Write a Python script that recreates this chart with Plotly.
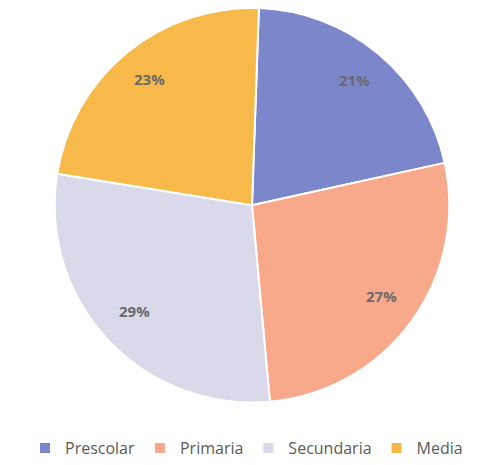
import numpy as np
import plotly.graph_objects as go

labels = ["Prescolar", "Primaria", "Secundaria", "Media"]
values = [21, 27, 29, 23]
colors = ["#7c87cb", "#f8a98b", "#d9d9e9", "#f6b94a"]

W, H = 493, 465
cx_px, cy_px, r_px = 252, 207, 199
rotation = 2

fig = go.Figure(go.Pie(
    labels=labels, values=values, sort=False, direction="clockwise", rotation=rotation,
    marker=dict(colors=colors, line=dict(color="white", width=2)),
    textinfo="none",
    domain=dict(x=[(cx_px - r_px) / W, (cx_px + r_px) / W],
                y=[1 - (cy_px + r_px) / H, 1 - (cy_px - r_px) / H]),
    hoverinfo="label+percent",
))

vals = np.array(values, dtype=float)
frac = vals / vals.sum()
mid = np.cumsum(frac) - frac / 2
d = 0.82 * 196
for f, m in zip(frac, mid):
    th = np.deg2rad(m * 360 + rotation)
    fig.add_annotation(
        x=(cx_px + d * np.sin(th)) / W, y=1 - (cy_px - 3 - d * np.cos(th)) / H,
        xref="paper", yref="paper", xanchor="center", yanchor="middle", showarrow=False,
        text=f"{round(f * 100)}%",
        font=dict(family="Open Sans", size=15, color="#6a6a6a", weight="bold"),
    )

fig.update_layout(
    width=W, height=H, margin=dict(l=0, r=0, t=0, b=0),
    paper_bgcolor="white", plot_bgcolor="white",
    legend=dict(orientation="h", x=0.5, xanchor="center", y=1 - 452 / H, yanchor="middle",
                font=dict(family="Open Sans", size=16, color="#5a5a5a"),
                itemwidth=30, traceorder="normal"),
)
fig.write_html("out.html", config={"displayModeBar": False},
               post_script="document.body.style.margin='0';")
